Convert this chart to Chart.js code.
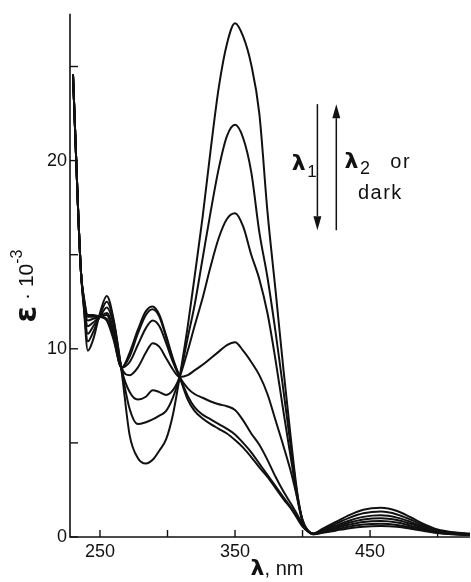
<!DOCTYPE html>
<html>
<head>
<meta charset="utf-8">
<script src="https://cdn.jsdelivr.net/npm/chart.js@4.4.1/dist/chart.umd.min.js"></script>
<style>
  html, body { margin:0; padding:0; background:#fff; }
  #wrap { position:relative; width:471px; height:582px; }
</style>
</head>
<body>
<div id="wrap"><canvas id="c" width="471" height="582"></canvas></div>
<script>
// wavelength grid, nm
const wavelengths = [230,232,234,236,238,241,245,250,255,260,266,272,278,284,289,294,299,304,309,315,320,326,332,338,344,350,356,362,368,374,380,386,392,396,400,404,408,415,425,435,445,458,470,480,490,500,512,524];

// epsilon * 10^-3, one array per spectrum (largest 350 nm band first)
const spec1 = [24.6,20.8,17.0,14.0,12.2,9.9,10.5,11.9,12.8,11.6,8.8,5.4,4.2,3.9,4.1,4.6,5.2,6.5,8.5,11.2,13.8,17.0,20.6,23.9,26.2,27.3,26.6,25.1,22.5,17.3,13.1,8.8,4.8,2.4,0.9,0.35,0.15,0.22,0.35,0.47,0.55,0.58,0.54,0.44,0.32,0.21,0.14,0.1];
const spec2 = [24.6,20.8,17.0,14.0,12.3,10.4,10.9,11.8,12.5,11.5,8.9,6.8,6.0,6.1,6.25,6.45,6.7,7.4,8.5,10.6,12.3,14.8,17.3,19.6,21.3,21.9,21.2,19.4,16.2,13.8,10.9,7.7,4.4,2.3,0.85,0.33,0.15,0.25,0.41,0.56,0.66,0.7,0.64,0.51,0.36,0.23,0.15,0.11];
const spec3 = [24.6,20.8,17.0,14.0,12.4,10.8,11.2,11.7,12.2,11.3,8.9,7.7,7.3,7.45,7.8,7.7,7.55,7.8,8.5,9.9,11.2,12.7,14.4,15.9,16.9,17.2,16.5,15.0,13.7,11.9,9.4,6.6,3.9,2.1,0.8,0.33,0.16,0.28,0.48,0.66,0.8,0.85,0.77,0.6,0.41,0.26,0.16,0.12];
const spec4 = [24.6,20.8,17.0,14.0,12.5,11.2,11.4,11.7,11.9,11.0,9.0,8.6,9.0,9.8,10.3,10.1,9.5,8.9,8.5,8.6,8.85,9.15,9.5,9.85,10.2,10.35,9.9,9.3,8.6,7.6,6.2,4.8,3.3,2.1,0.9,0.32,0.16,0.32,0.55,0.77,0.93,1.0,0.9,0.7,0.47,0.29,0.18,0.13];
const spec5 = [24.6,20.8,17.0,14.0,12.6,11.5,11.6,11.7,11.8,10.8,9.0,9.3,10.2,11.1,11.5,11.2,10.3,9.3,8.5,7.9,7.6,7.4,7.2,7.05,6.95,6.75,6.2,5.5,4.9,4.1,3.2,2.4,1.7,1.2,0.7,0.3,0.17,0.36,0.62,0.88,1.07,1.15,1.03,0.8,0.53,0.32,0.2,0.14];
const spec6 = [24.6,20.8,17.0,14.0,12.7,11.7,11.7,11.7,11.6,10.6,9.0,9.6,10.8,11.8,12.1,11.7,10.6,9.4,8.5,7.5,6.9,6.5,6.25,6.0,5.75,5.45,5.0,4.5,3.9,3.3,2.7,2.1,1.5,1.05,0.6,0.3,0.17,0.4,0.72,1.03,1.26,1.35,1.2,0.92,0.6,0.36,0.22,0.16];
const spec7 = [24.6,20.8,17.0,14.0,12.8,11.8,11.8,11.7,11.5,10.5,9.0,9.8,11.0,12.0,12.25,11.8,10.7,9.5,8.5,7.3,6.7,6.3,6.0,5.75,5.5,5.15,4.75,4.25,3.7,3.2,2.6,2.0,1.45,1.0,0.55,0.3,0.18,0.45,0.82,1.18,1.45,1.55,1.38,1.05,0.68,0.4,0.25,0.18];

const spectra = [spec1, spec2, spec3, spec4, spec5, spec6, spec7];

const xTicks      = [250,300,350,400,450,500];
const xTickLabels = ["250","","350","","450",""];
const yTicks      = [0,5,10,15,20,25];
const yTickLabels = ["0","","10","","20",""];

// arrow annotation, in data units
const arrowDown = { x:411, from:23.0, to:16.3 };
const arrowUp   = { x:425, from:16.3, to:23.0 };

const INK = "#111";
const TICK_FONT = { family:"'Liberation Sans', Arial, sans-serif", size:18 };

function drawArrow(ctx, x, y0, y1) {
  const dir = y1 > y0 ? 1 : -1;
  const head = 14;
  ctx.beginPath();
  ctx.moveTo(x, y0);
  ctx.lineTo(x, y1 - dir*head);
  ctx.stroke();
  ctx.beginPath();
  ctx.moveTo(x, y1);
  ctx.lineTo(x - 4, y1 - dir*head);
  ctx.lineTo(x + 4, y1 - dir*head);
  ctx.closePath();
  ctx.fill();
}

const decor = {
  id: "decor",
  afterDraw(chart) {
    const { ctx, chartArea: a, scales: { x, y } } = chart;
    ctx.save();
    ctx.strokeStyle = INK; ctx.fillStyle = INK;

    // axes
    ctx.lineWidth = 1.6;
    ctx.beginPath();
    ctx.moveTo(a.left, a.top); ctx.lineTo(a.left, a.bottom); ctx.lineTo(a.right, a.bottom);
    ctx.stroke();

    // inward ticks
    ctx.lineWidth = 1.4;
    yTicks.forEach(v => {
      const py = y.getPixelForValue(v);
      ctx.beginPath(); ctx.moveTo(a.left, py); ctx.lineTo(a.left + 8, py); ctx.stroke();
    });
    xTicks.forEach(v => {
      const px = x.getPixelForValue(v);
      ctx.beginPath(); ctx.moveTo(px, a.bottom); ctx.lineTo(px, a.bottom - 7); ctx.stroke();
    });

    // y title: ε · 10^-3
    ctx.save();
    ctx.translate(27, 286);
    ctx.rotate(-Math.PI/2);
    ctx.textBaseline = "middle";
    const f1 = "bold 30px 'DejaVu Sans', sans-serif";
    const f2 = "21px 'Liberation Sans', sans-serif";
    const f3 = "16px 'Liberation Sans', sans-serif";
    ctx.font = f1; const w1 = ctx.measureText("ε").width;
    ctx.font = f2; const w2 = ctx.measureText(" · 10").width;
    ctx.font = f3; const w3 = ctx.measureText("-3").width;
    let tx = -(w1 + w2 + w3)/2;
    ctx.textAlign = "left";
    ctx.font = f1; ctx.fillText("ε", tx, 1); tx += w1;
    ctx.font = f2; ctx.fillText(" · 10", tx, 0); tx += w2;
    ctx.font = f3; ctx.fillText("-3", tx, -9);
    ctx.restore();

    // x title: λ, nm
    ctx.textBaseline = "middle";
    ctx.textAlign = "left";
    const fl = "bold 22px 'DejaVu Sans', sans-serif";
    const fn = "20px 'Liberation Sans', sans-serif";
    ctx.font = fl; const wl = ctx.measureText("λ").width;
    ctx.font = fn; const wn = ctx.measureText(", nm").width;
    let sx = 277 - (wl + wn)/2;
    ctx.font = fl; ctx.fillText("λ", sx, 569); sx += wl;
    ctx.font = fn; ctx.fillText(", nm", sx, 569);

    // arrows
    ctx.lineWidth = 1.5;
    drawArrow(ctx, x.getPixelForValue(arrowDown.x), y.getPixelForValue(arrowDown.from), y.getPixelForValue(arrowDown.to));
    drawArrow(ctx, x.getPixelForValue(arrowUp.x), y.getPixelForValue(arrowUp.from), y.getPixelForValue(arrowUp.to));

    // arrow labels
    const lab = (txt, vx, vy, font) => { ctx.font = font; ctx.fillText(txt, x.getPixelForValue(vx), y.getPixelForValue(vy)); };
    ctx.textAlign = "left";
    lab("λ", 392, 19.8, fl);
    lab("1", 403.5, 19.4, "17px 'Liberation Sans', sans-serif");
    lab("λ", 431, 19.9, fl);
    lab("2", 442.5, 19.55, "18px 'Liberation Sans', sans-serif");
    ctx.letterSpacing = "1.5px";
    lab("or", 465, 19.9, fn);
    lab("dark", 441, 18.25, fn);
    ctx.letterSpacing = "0px";

    ctx.restore();
  }
};

new Chart(document.getElementById("c"), {
  type: "line",
  data: {
    datasets: spectra.map((s, k) => ({
      label: "spectrum " + (k + 1),
      data: wavelengths.map((w, i) => ({ x: w, y: s[i] })),
      borderColor: INK,
      borderWidth: 2,
      pointRadius: 0,
      fill: false,
      cubicInterpolationMode: "monotone",
    })),
  },
  options: {
    responsive: false,
    devicePixelRatio: 1,
    animation: false,
    layout: { padding: { top: 13, right: 1, left: 0, bottom: 0 } },
    plugins: { legend: { display: false }, tooltip: { enabled: false } },
    scales: {
      x: {
        type: "linear", min: 227.8, max: 524,
        grid: { display: false, drawTicks: false },
        border: { display: false },
        afterBuildTicks: s => { s.ticks = xTicks.map(v => ({ value: v })); },
        afterFit: s => { s.height = 45; },
        ticks: {
          color: INK, font: TICK_FONT, padding: 4, maxRotation: 0, autoSkip: false,
          callback: v => xTickLabels[xTicks.indexOf(v)] ?? "",
        },
      },
      y: {
        min: 0, max: 27.8,
        grid: { display: false, drawTicks: false },
        border: { display: false },
        afterBuildTicks: s => { s.ticks = yTicks.map(v => ({ value: v })); },
        afterFit: s => { s.width = 70; },
        ticks: {
          color: INK, font: TICK_FONT, padding: 3,
          callback: v => yTickLabels[yTicks.indexOf(v)] ?? "",
        },
      },
    },
  },
  plugins: [decor],
});
</script>
</body>
</html>
